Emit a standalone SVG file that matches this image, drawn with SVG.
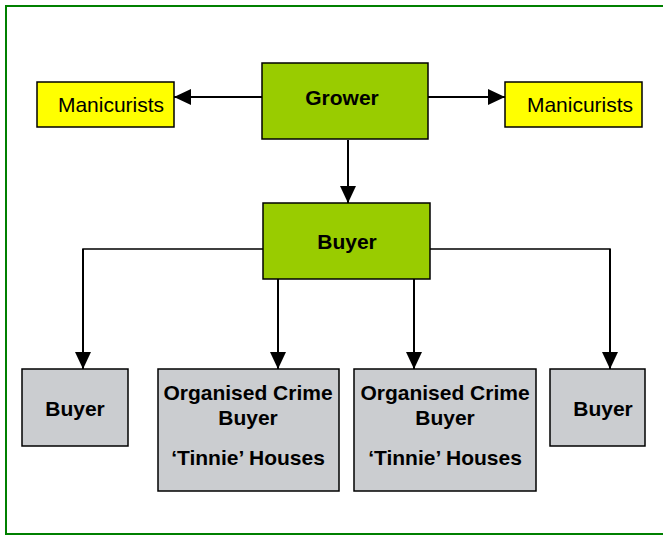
<svg xmlns="http://www.w3.org/2000/svg" width="663" height="536" viewBox="0 0 663 536">
<style>
.box{stroke:#000;stroke-width:1.5}
.green{fill:#99cc00}
.yellow{fill:#ffff00}
.grey{fill:#cbcdd0}
.t{font-family:"Liberation Sans",Arial,sans-serif;font-size:21px;fill:#000;text-anchor:middle}
.b{font-weight:bold}
.c{fill:none;stroke:#000;stroke-width:2}
.s{fill:none;stroke:#000;stroke-width:1.5}
</style>
<defs>
<marker id="ah" markerUnits="userSpaceOnUse" markerWidth="17" markerHeight="16" refX="17" refY="8" orient="auto">
<path d="M0,0 L17,8 L0,16 z" fill="#000"/>
</marker>
</defs>
<rect x="6" y="6" width="680" height="528" fill="#fff" stroke="#008000" stroke-width="2"/>
<g id="connectors">
<line class="c" x1="262" y1="97" x2="174" y2="97" marker-end="url(#ah)"/>
<line class="c" x1="428" y1="97" x2="505" y2="97" marker-end="url(#ah)"/>
<line class="c" x1="348" y1="140" x2="348" y2="203" marker-end="url(#ah)"/>
<polyline class="s" points="263,249 83,249 83,300"/>
<line class="c" x1="83" y1="249" x2="83" y2="369" marker-end="url(#ah)"/>
<polyline class="s" points="430,249 610,249 610,300"/>
<line class="c" x1="610" y1="249" x2="610" y2="369" marker-end="url(#ah)"/>
<line class="c" x1="278" y1="279" x2="278" y2="369" marker-end="url(#ah)"/>
<line class="c" x1="414" y1="279" x2="414" y2="369" marker-end="url(#ah)"/>
</g>
<g id="grower">
<rect class="box green" x="262" y="63" width="166" height="76"/>
<text class="t b" x="342" y="105">Grower</text>
</g>
<g id="manicurists-left">
<rect class="box yellow" x="37" y="82" width="137" height="45"/>
<text class="t" x="111" y="112">Manicurists</text>
</g>
<g id="manicurists-right">
<rect class="box yellow" x="505" y="82" width="137" height="45"/>
<text class="t" x="580" y="112">Manicurists</text>
</g>
<g id="buyer-main">
<rect class="box green" x="263" y="203" width="167" height="76"/>
<text class="t b" x="347" y="249">Buyer</text>
</g>
<g id="buyer-left">
<rect class="box grey" x="22" y="369" width="106" height="77"/>
<text class="t b" x="75" y="416">Buyer</text>
</g>
<g id="oc-1">
<rect class="box grey" x="158" y="369" width="181" height="122"/>
<text class="t b" x="248" y="400">Organised Crime</text>
<text class="t b" x="248" y="425">Buyer</text>
<text class="t b" x="248" y="465">‘Tinnie’ Houses</text>
</g>
<g id="oc-2">
<rect class="box grey" x="354" y="369" width="182" height="122"/>
<text class="t b" x="445" y="400">Organised Crime</text>
<text class="t b" x="445" y="425">Buyer</text>
<text class="t b" x="445" y="465">‘Tinnie’ Houses</text>
</g>
<g id="buyer-right">
<rect class="box grey" x="550" y="369" width="95" height="77"/>
<text class="t b" x="603" y="416">Buyer</text>
</g>
</svg>
